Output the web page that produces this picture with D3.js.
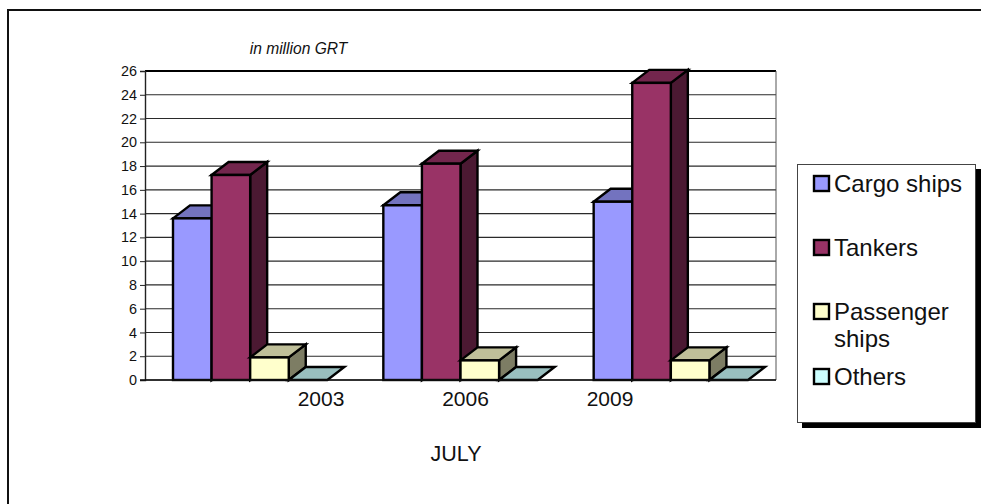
<!DOCTYPE html>
<html>
<head>
<meta charset="utf-8">
<script src="https://cdn.jsdelivr.net/npm/d3@7"></script>
<style>
  html, body { margin: 0; padding: 0; background: #fff; overflow: hidden; }
  svg { display: block; }
  text { font-family: "Liberation Sans", Arial, sans-serif; fill: #111; }
</style>
</head>
<body>
<div id="chart"></div>
<script>
// data
const years = ['2003', '2006', '2009'];
const seriesNames = ['Cargo ships', 'Tankers', 'Passenger ships', 'Others'];
const cargoShips = [13.6, 14.7, 15.0];
const tankers = [17.25, 18.2, 25.0];
const passengerShips = [1.9, 1.65, 1.65];
const others = [0, 0, 0];
const seriesValues = [cargoShips, tankers, passengerShips, others];
const seriesColors = ['#9999ff', '#993366', '#ffffcc', '#ccffff'];
const yTicks = d3.range(0, 27, 2);

const width = 981, height = 504;
const plot = { left: 145, right: 776, top: 71, bottom: 380 };
const depth = { x: 17, y: 13 };

const svg = d3.select('#chart').append('svg')
  .attr('width', width)
  .attr('height', height);

// outer frame, only top and left edges show
svg.append('path')
  .attr('d', `M8,${height} V10 H${width}`)
  .attr('fill', 'none')
  .attr('stroke', '#111')
  .attr('stroke-width', 2);

// scales
const y = d3.scaleLinear().domain([0, 26]).range([plot.bottom, plot.top]);
const xGroup = d3.scaleBand().domain(years).range([plot.left, plot.right]).paddingInner(0).paddingOuter(0);
const groupInset = 28;
const xBar = d3.scaleBand().domain(seriesNames).range([groupInset, xGroup.bandwidth() - groupInset]);
// the year labels do not sit under their groups in the original
const xLabel = d3.scalePoint().domain(years).range([320.5, 609.5]);

// gridlines
svg.append('g').selectAll('line')
  .data(yTicks)
  .join('line')
  .attr('x1', plot.left)
  .attr('x2', plot.right)
  .attr('y1', d => y(d))
  .attr('y2', d => y(d))
  .attr('stroke', d => d === 26 ? '#000' : '#2a2a2a')
  .attr('stroke-width', d => d === 26 ? 1.8 : 1.1);

// right edge of the plot
svg.append('line')
  .attr('x1', plot.right).attr('x2', plot.right)
  .attr('y1', plot.top).attr('y2', plot.bottom)
  .attr('stroke', '#555')
  .attr('stroke-width', 1);

// y axis
const yAxis = svg.append('g')
  .attr('transform', `translate(${plot.left},0)`)
  .call(d3.axisLeft(y).tickValues(yTicks).tickSize(5).tickPadding(3));
yAxis.selectAll('text').style('font-size', '14.4px');
yAxis.selectAll('line').attr('stroke', '#222');
yAxis.select('.domain').attr('stroke', '#222').attr('stroke-width', 1.4);

// bars, left to right so each bar hides the side of the previous one
const bars = [];
years.forEach((year, i) => {
  seriesNames.forEach((name, s) => {
    bars.push({ year, name, value: seriesValues[s][i], color: seriesColors[s] });
  });
});

const barGroups = svg.append('g').selectAll('g')
  .data(bars)
  .join('g')
  .attr('stroke', '#000')
  .attr('stroke-width', 2.4)
  .attr('stroke-linejoin', 'miter');

const x0 = d => xGroup(d.year) + xBar(d.name);
const x1 = d => x0(d) + xBar.bandwidth();

// side
barGroups.filter(d => d.value > 0).append('path')
  .attr('d', d => `M${x1(d)},${y(0)} V${y(d.value)} l${depth.x},${-depth.y} V${y(0) - depth.y} Z`)
  .attr('fill', d => d3.rgb(d.color).darker(2).toString());
// top
barGroups.append('path')
  .attr('d', d => `M${x0(d)},${y(d.value)} l${depth.x},${-depth.y} H${x1(d) + depth.x} L${x1(d)},${y(d.value)} Z`)
  .attr('fill', d => {
    const c = d3.rgb(d.color);
    return d3.rgb(c.r * 0.75, c.g * 0.75, c.b * 0.75).toString();
  });
// front
barGroups.filter(d => d.value > 0).append('rect')
  .attr('x', x0)
  .attr('y', d => y(d.value))
  .attr('width', xBar.bandwidth())
  .attr('height', d => y(0) - y(d.value))
  .attr('fill', d => d.color);

// baseline over the bars
svg.append('line')
  .attr('x1', plot.left - 5).attr('x2', plot.right)
  .attr('y1', y(0)).attr('y2', y(0))
  .attr('stroke', '#111')
  .attr('stroke-width', 1.6);

// year labels
const xAxis = svg.append('g')
  .attr('transform', 'translate(0,391)')
  .call(d3.axisBottom(xLabel).tickSize(0).tickPadding(0));
xAxis.select('.domain').remove();
xAxis.selectAll('text').style('font-size', '21px');

// titles
svg.append('text')
  .attr('x', 298.5).attr('y', 54)
  .attr('text-anchor', 'middle')
  .style('font-size', '15.6px')
  .style('font-style', 'italic')
  .text('in million GRT');

svg.append('text')
  .attr('x', 456).attr('y', 461)
  .attr('text-anchor', 'middle')
  .style('font-size', '21.5px')
  .text('JULY');

// legend
svg.append('rect')
  .attr('x', 802).attr('y', 169)
  .attr('width', 179).attr('height', 259)
  .attr('fill', '#000');
svg.append('rect')
  .attr('x', 797.5).attr('y', 164.5)
  .attr('width', 178).attr('height', 258)
  .attr('fill', '#fff')
  .attr('stroke', '#444')
  .attr('stroke-width', 1);

const legendRows = [
  { name: seriesNames[0], lines: ['Cargo ships'], base: 192 },
  { name: seriesNames[1], lines: ['Tankers'], base: 256 },
  { name: seriesNames[2], lines: ['Passenger', 'ships'], base: 320 },
  { name: seriesNames[3], lines: ['Others'], base: 385 }
];

const legendItems = svg.append('g').selectAll('g')
  .data(legendRows)
  .join('g');

legendItems.append('rect')
  .attr('x', 814).attr('y', d => d.base - 16)
  .attr('width', 15).attr('height', 15)
  .attr('fill', (d, i) => seriesColors[i])
  .attr('stroke', '#000')
  .attr('stroke-width', 2.4);

legendItems.selectAll('text')
  .data(d => d.lines.map((line, i) => ({ line, y: d.base + i * 27 })))
  .join('text')
  .attr('x', 834)
  .attr('y', d => d.y)
  .style('font-size', '24px')
  .text(d => d.line);
</script>
</body>
</html>
